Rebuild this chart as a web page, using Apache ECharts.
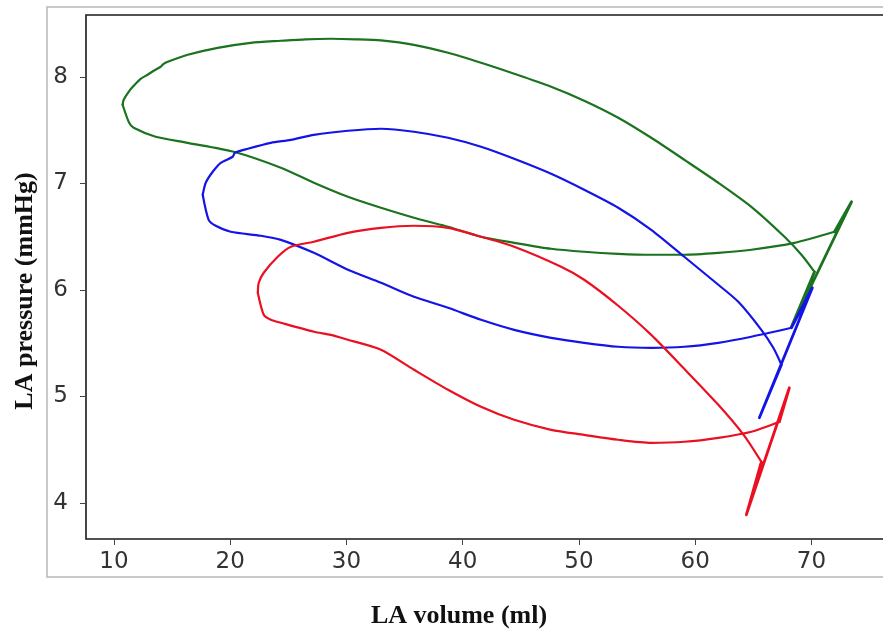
<!DOCTYPE html>
<html>
<head>
<meta charset="utf-8">
<title>LA pressure-volume loops</title>
<script src="https://cdn.jsdelivr.net/npm/echarts@6/dist/echarts.min.js"></script>
<style>
  html, body { margin: 0; padding: 0; background: #fff; }
  #chart { width: 883px; height: 632px; }
</style>
</head>
<body>
<div id="chart"></div>
<script>
// Tick values shown on each axis
const volumeTicks = [10, 20, 30, 40, 50, 60, 70];
const pressureTicks = [4, 5, 6, 7, 8];

// Each loop is split into three pieces, as [volume (ml), pressure (mmHg)]:
// the upper arc (left tip -> right), the straight stroke at large volume,
// and the lower limb (right -> back to the left tip).

// Green loop
const greenUpper = [
  [10.75, 7.737], [10.84, 7.784], [11.27, 7.859], [11.70, 7.915], [12.30, 7.981],
  [12.90, 8.019], [13.42, 8.056], [14.02, 8.094], [14.28, 8.122], [14.63, 8.141],
  [16.35, 8.207], [18.93, 8.272], [21.77, 8.319], [24.35, 8.338], [26.51, 8.352],
  [28.66, 8.357], [30.81, 8.352], [32.97, 8.341], [35.81, 8.300], [38.74, 8.225],
  [41.58, 8.131], [44.43, 8.028], [47.61, 7.906], [50.45, 7.775], [53.38, 7.615],
  [56.22, 7.427], [59.06, 7.221], [61.99, 7.005], [64.83, 6.779], [67.68, 6.498],
  [69.14, 6.329], [70.26, 6.169]
];
const greenStroke = [[70.26, 6.169], [68.28, 5.653], [73.45, 6.826], [71.98, 6.545]];
const greenLower = [
  [71.98, 6.545], [68.53, 6.441], [64.83, 6.376], [61.99, 6.347], [59.06, 6.329],
  [56.22, 6.329], [53.38, 6.338], [50.45, 6.357], [47.61, 6.385], [44.43, 6.441],
  [41.58, 6.498], [38.74, 6.592], [36.42, 6.657], [32.97, 6.770], [30.13, 6.873],
  [27.20, 7.005], [24.36, 7.146], [20.31, 7.296], [16.35, 7.380], [13.59, 7.437],
  [11.70, 7.521], [11.30, 7.570], [10.75, 7.737]
];

// Blue loop
const blueUpper = [
  [17.64, 6.892], [17.90, 7.005], [18.50, 7.108], [19.19, 7.192], [20.22, 7.249],
  [20.40, 7.286], [21.52, 7.324], [23.50, 7.380], [25.22, 7.408], [27.20, 7.455],
  [30.13, 7.493], [32.97, 7.512], [35.81, 7.484], [38.74, 7.427], [41.58, 7.343],
  [44.43, 7.230], [47.61, 7.089], [50.45, 6.939], [53.38, 6.770], [56.22, 6.563],
  [59.06, 6.310], [61.99, 6.047], [63.71, 5.887], [65.69, 5.624], [66.72, 5.455],
  [67.42, 5.296]
];
const blueStroke = [[67.42, 5.296], [65.52, 4.798], [70.08, 6.019], [68.28, 5.643]];
const blueLower = [
  [68.28, 5.643], [64.83, 5.559], [61.99, 5.502], [59.06, 5.465], [56.22, 5.455],
  [53.38, 5.465], [50.45, 5.502], [47.61, 5.549], [44.43, 5.624], [41.58, 5.718],
  [38.74, 5.831], [35.81, 5.934], [32.97, 6.066], [30.13, 6.188], [27.20, 6.347],
  [24.36, 6.469], [22.64, 6.507], [20.05, 6.545], [18.76, 6.601], [18.15, 6.657],
  [17.64, 6.892]
];

// Red loop
const redUpper = [
  [22.38, 5.972], [22.46, 6.066], [22.89, 6.160], [24.09, 6.310], [25.22, 6.404],
  [27.20, 6.451], [30.13, 6.535], [32.97, 6.582], [35.81, 6.601], [38.74, 6.582],
  [41.58, 6.498], [44.43, 6.404], [48.47, 6.216], [50.45, 6.094], [53.38, 5.850],
  [56.22, 5.577], [59.06, 5.258], [61.99, 4.920], [64.23, 4.629], [65.69, 4.385]
];
const redStroke = [[65.69, 4.385], [64.40, 3.887], [68.10, 5.080], [67.24, 4.761]];
const redLower = [
  [67.24, 4.761], [64.83, 4.667], [61.99, 4.610], [59.06, 4.573], [56.22, 4.563],
  [53.38, 4.592], [50.45, 4.638], [47.61, 4.685], [44.43, 4.779], [41.58, 4.901],
  [38.74, 5.061], [35.81, 5.249], [32.97, 5.437], [30.13, 5.531], [28.66, 5.577],
  [27.20, 5.606], [24.36, 5.690], [23.50, 5.718], [22.89, 5.765], [22.38, 5.972]
];

const GREEN = '#1b7320';
const BLUE = '#1414e6';
const RED = '#ea1022';

const chart = echarts.init(document.getElementById('chart'), null, { renderer: 'canvas' });

const tickLabelFont = { fontFamily: 'DejaVu Sans', fontSize: 23, color: '#333' };
const titleFont = { fontFamily: 'Liberation Serif', fontWeight: 'bold', fontSize: 26, fill: '#111' };

function piece(data, color, smooth, width) {
  return {
    type: 'line',
    data: data,
    showSymbol: false,
    symbol: 'none',
    smooth: smooth,
    animation: false,
    lineStyle: { color: color, width: width, cap: 'round', join: 'round' },
    z: 3
  };
}

chart.setOption({
  animation: false,
  backgroundColor: '#fff',
  grid: {
    left: 86,
    top: 15,
    width: 801,
    height: 524,
    show: true,
    borderColor: '#1a1a1a',
    borderWidth: 1.6,
    backgroundColor: 'transparent',
    outerBoundsMode: 'none',
    containLabel: false
  },
  xAxis: {
    type: 'value',
    min: 7.6,
    max: 76.5,
    axisLine: { show: false },
    splitLine: { show: false },
    axisTick: { show: true, customValues: volumeTicks, length: 6, lineStyle: { color: '#444', width: 1 } },
    axisLabel: Object.assign({ customValues: volumeTicks, margin: 12 }, tickLabelFont)
  },
  yAxis: {
    type: 'value',
    min: 3.66,
    max: 8.58,
    axisLine: { show: false },
    splitLine: { show: false },
    axisTick: { show: true, customValues: pressureTicks, length: 6, lineStyle: { color: '#444', width: 1 } },
    axisLabel: Object.assign({ customValues: pressureTicks, margin: 18 }, tickLabelFont)
  },
  graphic: [
    {
      type: 'rect',
      shape: { x: 47, y: 7, width: 860, height: 570 },
      style: { fill: 'none', stroke: '#b8b8b8', lineWidth: 1.5 },
      silent: true,
      z: -1
    },
    {
      type: 'text',
      x: 459,
      y: 616,
      style: Object.assign({ text: 'LA volume (ml)', textAlign: 'center', textVerticalAlign: 'middle' }, titleFont)
    },
    {
      type: 'text',
      x: 25,
      y: 291,
      rotation: Math.PI / 2,
      style: Object.assign({ text: 'LA pressure (mmHg)', textAlign: 'center', textVerticalAlign: 'middle' }, titleFont)
    }
  ],
  series: [
    piece(greenUpper, GREEN, 0.25, 2.2),
    piece(greenStroke, GREEN, false, 2.8),
    piece(greenLower, GREEN, 0.25, 2.2),
    piece(blueUpper, BLUE, 0.25, 2.2),
    piece(blueStroke, BLUE, false, 2.8),
    piece(blueLower, BLUE, 0.25, 2.2),
    piece(redUpper, RED, 0.25, 2.2),
    piece(redStroke, RED, false, 2.8),
    piece(redLower, RED, 0.25, 2.2)
  ]
});
</script>
</body>
</html>
